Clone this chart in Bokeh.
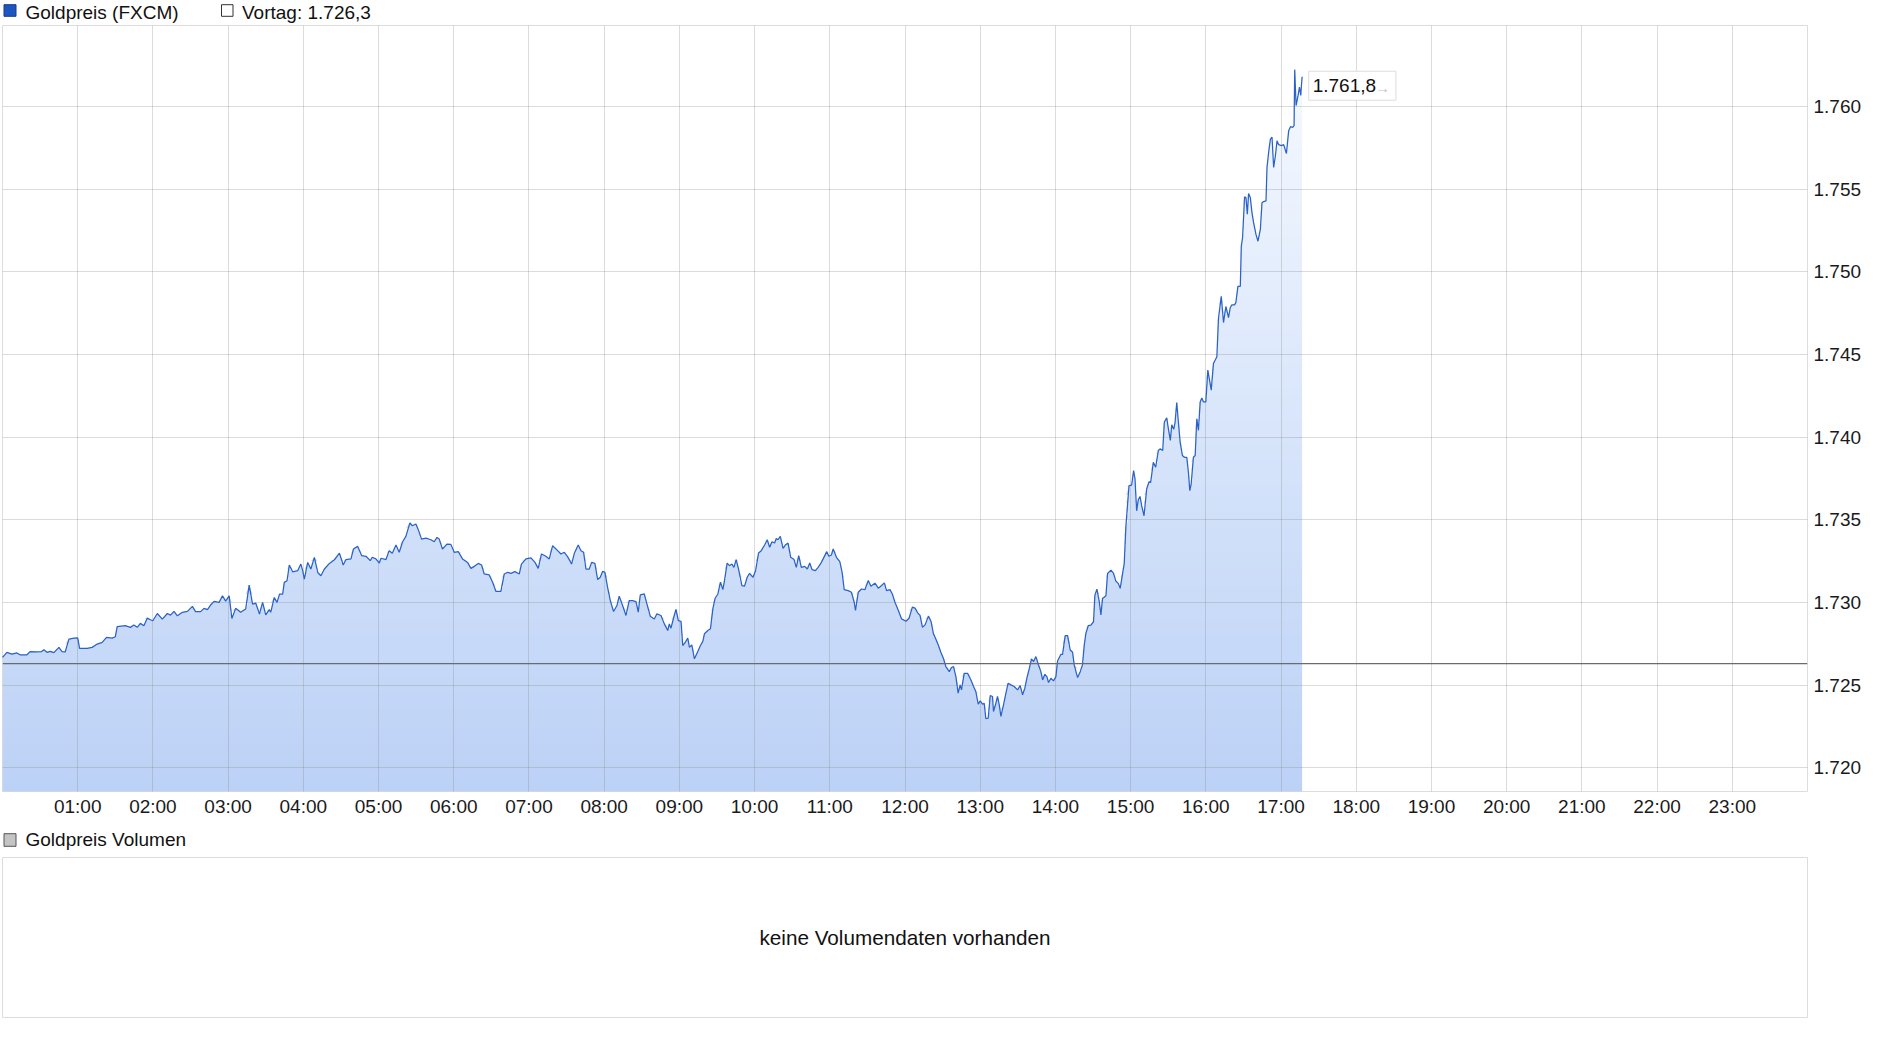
import numpy as np
from bokeh.plotting import figure
from bokeh.layouts import column
from bokeh.models import Range1d, FixedTicker, Span, Label
from bokeh.core.properties import value
from bokeh.embed import file_html
from bokeh.resources import INLINE

# ---------------- data (minutes after 00:00, gold price in USD) ----------------
minutes = [
    0, 3.5, 7.5, 11.5, 14, 19.5, 22, 27, 31, 33, 35.5, 38, 41, 45, 47.5, 50, 53, 57, 60, 61.5,
    67.5, 71.5, 75.5, 79.5, 83, 87.5, 90, 91.5, 98, 102, 104.8, 107.5, 110, 112.8, 115.5, 118, 120,
    123.5, 127.5, 131.5, 134, 136.8, 139.5, 143.5, 147.5, 151.5, 154, 158, 160.8, 163.5, 166, 168.8,
    172.8, 175.5, 178, 180.8, 183, 186, 190, 194, 196.8, 199.5, 202, 205, 207.5, 210, 212.8, 214,
    216.8, 219, 221, 223.5, 224.8, 227, 228.8, 231.5, 235.5, 238, 239.5, 240.8, 243.5, 246, 248.8,
    251.5, 254, 256.8, 260.8, 264.8, 268.8,
    271.8, 274, 278, 280, 283.3, 286.5, 290, 293.4, 295, 297.9, 300.6, 302, 305.9, 308.5, 311, 313.9,
    316.5, 319.2, 321.8, 325, 327, 329.8, 331.7, 334.3, 337.8, 341.8, 344.4, 346.6, 348.4, 351, 354.6,
    357.7, 360.4, 363.6, 367, 371, 373.7, 376.4, 379.6, 382.2, 384.3, 388.3, 391, 393.6, 397.6, 400.3,
    403, 405.6, 408.8, 412.3, 414, 417.6, 421.6, 424.8, 427.4, 430, 433.5, 436.2, 438.9, 442.9, 445.5,
    448.2, 450.8, 454, 456.2, 459.3, 461.5, 463.6, 465.5, 468.1, 470, 472.6, 474.8, 476.9, 478.8,
    480.6, 482.7, 484.9, 487.5, 490.2, 492, 494.7, 497.4, 500, 502.7, 505.4, 507.2, 508.8, 512, 514.1,
    516.8, 520, 522.1,
    525.3, 528, 530.7, 532, 533.3, 535.5, 537.3, 539.2, 541.3, 542.7, 544.5, 546.7, 548, 549.9, 552,
    554.7, 556.8, 558.7, 560, 562.7, 564.8, 566.7, 568.5, 570.7, 572.8, 574.7, 576, 578.1, 580, 581.9,
    583.5, 585.3, 587.2, 589.9, 592, 594.1, 596, 598.7, 600.8, 603.2, 605.3, 608, 610.1, 612, 613.9,
    616, 617.3, 618.7, 620.5, 622.7, 624.5, 626.7, 628.8, 631.5, 633.3, 635.2, 637.3, 640, 642.1, 644,
    645.9, 648.5, 650.7, 653.3, 656, 657.6, 659.2, 661.3, 662.7, 665.3, 668, 669.9, 671.5, 674.7,
    677.3, 679.5, 680.5, 682.7, 685.3, 688, 690.7, 692.8, 696, 698.7, 701.3, 703.5, 705.3, 708, 709.9,
    712, 714.7, 717.3, 720.8, 723.2, 725.9, 728, 730.1, 732, 733.9, 736, 738.7, 740.8, 742.7, 744.5,
    746.7,
    748.6, 750.7, 752.6, 755.3, 757.1, 758.7, 760.6, 762.4, 764, 765.1, 767.2, 769.9, 772.6, 774.7,
    776.5, 778.4, 780, 781.9, 783.2, 784.5, 786.4, 788, 789.8, 790.6, 792.5, 793.8, 795.2, 796.5,
    798.6, 800.5, 802.3, 804.5, 807.1, 809.8, 811.9, 813.8, 815.6, 817.2, 819.1, 820.9, 822.6, 824.4,
    826.3, 828.4, 829.8, 831.6, 833.2, 834.5, 836.4, 838.5, 840.4, 841.7, 844.4, 845.7, 847.8, 849.7,
    851.8, 853.7, 855, 857.7, 859.8, 861.6, 863, 864.3, 866.2, 868.3, 870.4, 871.5, 873.1, 875, 876.3,
    877.6, 880.3, 881.6, 884.3, 886.4, 888.2, 890.1, 891.7, 893.6, 894.9, 896.2,
    898.7, 900.8, 902.4, 903.5, 904.8, 906.1, 907.5, 908.8, 910.7, 912.8, 914.7, 916, 918.1, 920,
    922.1, 923.5, 925.6, 926.9, 928.8, 930.1, 931.7, 932.8, 934.4, 935.5, 936.8, 938.1, 939.5, 941.3,
    942.9, 944.8, 946.1, 947.2, 948.3, 950.1, 951.5, 952.8, 954.1, 955.5, 956.8, 958.1, 960, 961.6,
    962.7, 964.3, 966.1, 967.5, 968.8, 970.1, 972.3, 974.1, 976, 978.1, 979.5, 980.8, 982.9, 984,
    985.6, 987.5, 988.3, 989.3, 990.9, 992, 993.1, 994.1, 995.5, 996.8, 998.1, 1000, 1001.6, 1003.5,
    1004.8, 1006.1, 1008, 1008.8, 1010.1, 1011.5, 1012.8, 1014.1, 1015.5, 1016.8, 1018.1, 1020.3,
    1022.1, 1024.3, 1026.1, 1027.5, 1029.3, 1030.4, 1030.9, 1032, 1033.6, 1034.7, 1035.7, 1036.8,
]

prices = [
    1726.67, 1726.98, 1726.87, 1726.94, 1726.83, 1726.83, 1727.02, 1727.00, 1727.02, 1727.14, 1726.98,
    1727.04, 1726.96, 1727.28, 1727.02, 1727.00, 1727.78, 1727.84, 1727.86, 1727.22, 1727.22, 1727.28,
    1727.48, 1727.58, 1727.88, 1727.84, 1727.92, 1728.53, 1728.59, 1728.49, 1728.63, 1728.49, 1728.73,
    1728.59, 1729.05, 1728.95, 1728.89, 1729.33, 1728.99, 1729.33, 1729.23, 1729.46, 1729.19, 1729.40,
    1729.46, 1729.76, 1729.44, 1729.44, 1729.64, 1729.56, 1729.84, 1730.06, 1730.00, 1730.40, 1730.08,
    1730.40, 1729.03, 1729.64, 1729.40, 1729.60, 1731.05, 1729.90, 1729.96, 1729.29, 1730.00, 1729.25,
    1729.56, 1729.40, 1730.30, 1730.00, 1730.50, 1730.50, 1731.21, 1731.31, 1732.26, 1731.85, 1731.92,
    1732.32, 1731.92, 1731.41, 1732.42, 1732.02, 1732.72, 1731.81, 1731.61, 1732.02, 1732.36, 1732.58,
    1732.98,
    1732.26, 1732.59, 1732.63, 1733.23, 1733.39, 1732.83, 1732.79, 1732.53, 1732.73, 1732.63, 1732.38,
    1732.67, 1732.59, 1733.13, 1732.97, 1733.47, 1733.03, 1733.67, 1733.99, 1734.80, 1734.64, 1734.74,
    1734.40, 1733.83, 1733.89, 1733.79, 1733.67, 1733.93, 1733.83, 1733.23, 1733.53, 1733.51, 1733.03,
    1733.07, 1732.63, 1732.42, 1732.06, 1732.18, 1732.36, 1732.26, 1731.72, 1731.66, 1731.22, 1730.67,
    1730.67, 1731.72, 1731.82, 1731.76, 1731.86, 1731.72, 1732.32, 1732.63, 1732.69, 1732.42, 1732.06,
    1732.93, 1732.79, 1732.63, 1733.43, 1733.13, 1732.93, 1733.03, 1732.77, 1732.32, 1732.97, 1733.47,
    1733.13, 1733.03, 1732.02, 1732.02, 1732.42, 1732.36, 1731.38, 1731.52, 1731.88, 1731.82, 1730.92,
    1730.11, 1729.45, 1729.81, 1730.38, 1729.81, 1729.21, 1730.11, 1730.11, 1730.05, 1729.41, 1730.45,
    1730.51, 1729.91, 1729.16, 1729.00, 1729.31,
    1729.21, 1728.70, 1728.30, 1728.70, 1728.44, 1729.10, 1729.57, 1728.90, 1728.86, 1727.39, 1727.56,
    1727.84, 1727.29, 1727.43, 1726.59, 1727.03, 1727.39, 1727.64, 1728.10, 1728.30, 1728.40, 1729.61,
    1730.25, 1730.51, 1731.22, 1730.77, 1731.32, 1732.38, 1732.22, 1732.32, 1732.12, 1732.59, 1732.02,
    1731.02, 1730.98, 1731.52, 1731.76, 1731.52, 1731.92, 1732.99, 1733.13, 1733.47, 1733.79, 1733.33,
    1733.67, 1733.59, 1733.87, 1733.79, 1733.99, 1733.27, 1733.47, 1733.59, 1732.73, 1732.59, 1732.12,
    1732.83, 1732.12, 1732.18, 1732.02, 1732.38, 1731.98, 1731.92, 1732.12, 1732.42, 1732.83, 1733.07,
    1732.79, 1732.87, 1733.23, 1732.73, 1732.46, 1731.78, 1730.77, 1730.71, 1730.61, 1730.01, 1729.51,
    1730.61, 1730.81, 1730.77, 1731.32, 1730.98, 1731.16, 1730.86, 1731.02, 1731.18, 1730.71, 1730.77,
    1730.51, 1730.01, 1729.51, 1729.00, 1728.86, 1729.04, 1729.71, 1729.65, 1729.37, 1729.21, 1728.50,
    1728.64, 1729.17, 1728.84, 1728.10, 1727.80, 1727.39,
    1726.98, 1726.60, 1726.12, 1725.81, 1726.06, 1726.12, 1725.51, 1724.51, 1725.01, 1724.71, 1725.71,
    1725.71, 1725.31, 1724.91, 1724.61, 1723.84, 1724.04, 1723.84, 1723.90, 1722.96, 1723.00, 1724.37,
    1724.31, 1723.40, 1723.90, 1724.31, 1723.80, 1723.10, 1723.80, 1724.51, 1725.11, 1725.01, 1724.91,
    1724.71, 1724.97, 1724.41, 1724.81, 1725.41, 1725.98, 1726.58, 1726.42, 1726.72, 1726.26, 1725.81,
    1725.31, 1725.65, 1725.51, 1725.15, 1725.41, 1725.25, 1725.51, 1726.46, 1726.86, 1726.86, 1727.99,
    1727.99, 1727.12, 1726.98, 1726.22, 1725.45, 1725.81, 1726.22, 1727.42, 1728.13, 1728.59, 1728.63,
    1728.83, 1730.44, 1730.80, 1730.04, 1729.24, 1730.24, 1730.40, 1731.75, 1731.95, 1731.75, 1731.29,
    1731.15, 1730.85, 1731.75, 1732.35, 1734.57,
    1737.06, 1737.10, 1737.97, 1737.47, 1735.54, 1736.21, 1736.41, 1735.85, 1735.24, 1736.86, 1737.30,
    1737.26, 1738.48, 1738.18, 1739.19, 1739.29, 1739.19, 1740.91, 1741.16, 1740.51, 1739.80, 1740.75,
    1740.47, 1740.91, 1742.09, 1740.91, 1739.70, 1738.89, 1738.78, 1738.78, 1737.87, 1736.76, 1737.16,
    1738.78, 1738.89, 1741.11, 1740.41, 1742.13, 1742.37, 1742.13, 1742.13, 1744.05, 1743.55, 1742.84,
    1744.46, 1744.66, 1744.86, 1747.19, 1748.51, 1746.93, 1747.90, 1747.23, 1747.84, 1748.00, 1748.00,
    1748.15, 1749.12, 1749.12, 1751.55, 1752.06, 1754.53, 1754.49, 1753.48, 1754.73, 1754.49, 1753.58,
    1752.97, 1752.26, 1751.85, 1752.56, 1754.18, 1754.25, 1754.29, 1756.31, 1757.22, 1758.03, 1758.14,
    1756.31, 1757.02, 1757.93, 1757.69, 1757.63, 1757.69, 1757.16, 1758.54, 1758.78, 1758.74, 1758.84,
    1762.23, 1760.06, 1760.67, 1761.18, 1760.67, 1761.80,
]

vortag = 1726.3

hour_ticks = list(range(1, 24))
hour_labels = ["01:00", "02:00", "03:00", "04:00", "05:00", "06:00", "07:00", "08:00", "09:00",
               "10:00", "11:00", "12:00", "13:00", "14:00", "15:00", "16:00", "17:00", "18:00",
               "19:00", "20:00", "21:00", "22:00", "23:00"]
price_ticks = [1720, 1725, 1730, 1735, 1740, 1745, 1750, 1755, 1760]
price_labels = ["1.720", "1.725", "1.730", "1.735", "1.740", "1.745", "1.750", "1.755", "1.760"]

series_name = "Goldpreis (FXCM)"
volume_name = "Goldpreis Volumen"
volume_msg = "keine Volumendaten vorhanden"


def de(v, d=1):
    s = f"{v:,.{d}f}"
    return s.replace(",", "X").replace(".", ",").replace("X", ".")


FONT = "Liberation Sans"
FS = "19px"
W = 1870
BL, BR = 2, 63          # frame borders shared by all stacked figures
FX0, FX1 = BL, W - BR   # frame extent in page pixels

# ---------------- header with legend ----------------
h1 = figure(width=W, height=24, x_range=Range1d(FX0, FX1), y_range=Range1d(24, 0),
            x_axis_location=None, y_axis_location=None, toolbar_location=None,
            output_backend="svg", min_border_left=BL, min_border_right=BR,
            min_border_top=0, min_border_bottom=0, outline_line_color=None)
h1.grid.visible = False
h1.quad(left=[3.5, 221], right=[15.5, 232.5], top=[4.2, 4.2], bottom=[15.8, 15.8],
        fill_color=["#1d56c0", "#ffffff"], line_color=["#163c87", "#333333"], line_width=1)
h1.text(x=[25, 241.5], y=[11.5, 11.5], text=[series_name, "Vortag: " + de(vortag)],
        text_align="left", text_baseline="middle", text_font=value(FONT),
        text_font_size=FS, text_color="#111111")

# ---------------- main price chart ----------------
t = np.array(minutes) / 60.0
pr = np.array(prices)

p = figure(width=W, height=798, x_range=Range1d(0, 24), y_range=Range1d(1718.56, 1764.90),
           y_axis_location="right", toolbar_location=None, output_backend="svg",
           min_border_left=BL, min_border_right=BR, min_border_top=1, min_border_bottom=31,
           outline_line_color="#dddddd", title=None)

# gradient area fill, built as stacked bands
c_bot = np.array([187, 209, 246])
c_top = np.array([245, 249, 255])
vmin, vmax = 1718.56, pr.max()
step = 0.5
lo = 1718.5
while lo < vmax:
    frac = np.clip((lo + step / 2 - vmin) / (vmax - vmin), 0, 1)
    c = (c_bot + (c_top - c_bot) * frac).round().astype(int)
    col = "#%02x%02x%02x" % tuple(c)
    y2 = np.clip(pr, lo, lo + step + 0.08)
    p.varea(x=t, y1=lo, y2=y2, fill_color=col, fill_alpha=1.0)
    lo += step

p.line(t, pr, line_color="#2b62c6", line_width=1.25, level="annotation")

p.add_layout(Span(location=vortag, dimension="width", line_color="#6b6b6b", line_width=1.3))

p.xaxis.ticker = FixedTicker(ticks=hour_ticks)
p.xaxis.major_label_overrides = dict(zip(hour_ticks, hour_labels))
p.yaxis.ticker = FixedTicker(ticks=price_ticks)
p.yaxis.major_label_overrides = dict(zip(price_ticks, price_labels))
p.xgrid.ticker = FixedTicker(ticks=hour_ticks)
p.ygrid.ticker = FixedTicker(ticks=price_ticks)
p.grid.grid_line_color = "#878787"
p.grid.grid_line_alpha = 0.3
p.grid.level = "guide"

for ax in (p.xaxis, p.yaxis):
    ax.axis_line_color = None
    ax.major_tick_line_color = None
    ax.minor_tick_line_color = None
    ax.major_tick_out = 0
    ax.major_tick_in = 0
    ax.major_label_text_font = FONT
    ax.major_label_text_font_size = FS
    ax.major_label_text_color = "#1a1a1a"
p.xaxis.major_label_standoff = 4
p.yaxis.major_label_standoff = 6

last_t, last_v = t[-1], pr[-1]
p.add_layout(Label(x=last_t, y=last_v, x_offset=6.6, y_offset=-9, text=de(last_v) + "\u00a0" * 3,
                   text_align="left", text_baseline="middle", text_font=FONT, text_font_size=FS,
                   text_color="#111111", padding=4, background_fill_color="white",
                   border_line_color="#dddddd", border_line_width=1))
p.add_layout(Label(x=last_t, y=last_v, x_offset=80.5, y_offset=-11, text="\u2192",
                   text_align="center", text_baseline="middle", text_font=FONT,
                   text_font_size="15px", text_color="#c2c2c2"))

# ---------------- volume header ----------------
h2 = figure(width=W, height=34, x_range=Range1d(FX0, FX1), y_range=Range1d(34, 0),
            x_axis_location=None, y_axis_location=None, toolbar_location=None,
            output_backend="svg", min_border_left=BL, min_border_right=BR,
            min_border_top=0, min_border_bottom=0, outline_line_color=None)
h2.grid.visible = False
h2.quad(left=[3.5], right=[15.5], top=[11.2], bottom=[23.8], fill_color="#c4c4c4",
        line_color="#555555", line_width=1)
h2.text(x=[25], y=[17.0], text=[volume_name], text_align="left", text_baseline="middle",
        text_font=value(FONT), text_font_size=FS, text_color="#111111")

# ---------------- volume panel ----------------
v = figure(width=W, height=162, x_range=Range1d(0, 1), y_range=Range1d(0, 1),
           x_axis_location=None, y_axis_location=None, toolbar_location=None,
           output_backend="svg", min_border_left=BL, min_border_right=BR, min_border_top=1,
           min_border_bottom=1, outline_line_color="#dddddd")
v.grid.visible = False
v.text(x=[0.5], y=[0.5], text=[volume_msg], text_align="center", text_baseline="middle",
       text_font=value(FONT), text_font_size="20.7px", text_color="#111111")

layout = column(h1, p, h2, v, spacing=0)
open("out.html", "w").write(file_html(layout, INLINE))
